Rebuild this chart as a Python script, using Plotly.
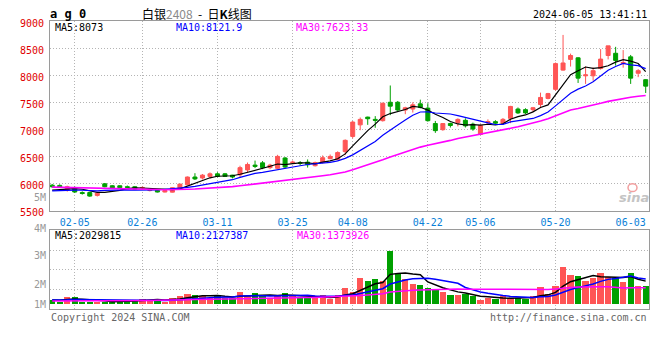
import plotly.graph_objects as go

# ---------------- data ----------------
dates = ["2024-01-31", "2024-02-01", "2024-02-02", "2024-02-05", "2024-02-06", "2024-02-07", "2024-02-08",
         "2024-02-19", "2024-02-20", "2024-02-21", "2024-02-22", "2024-02-23", "2024-02-26", "2024-02-27",
         "2024-02-28", "2024-02-29", "2024-03-01", "2024-03-04", "2024-03-05", "2024-03-06", "2024-03-07",
         "2024-03-08", "2024-03-11", "2024-03-12", "2024-03-13", "2024-03-14", "2024-03-15", "2024-03-18",
         "2024-03-19", "2024-03-20", "2024-03-21", "2024-03-22", "2024-03-25", "2024-03-26", "2024-03-27",
         "2024-03-28", "2024-03-29", "2024-04-01", "2024-04-02", "2024-04-03", "2024-04-08", "2024-04-09",
         "2024-04-10", "2024-04-11", "2024-04-12", "2024-04-15", "2024-04-16", "2024-04-17", "2024-04-18",
         "2024-04-19", "2024-04-22", "2024-04-23", "2024-04-24", "2024-04-25", "2024-04-26", "2024-04-29",
         "2024-04-30", "2024-05-06", "2024-05-07", "2024-05-08", "2024-05-09", "2024-05-10", "2024-05-13",
         "2024-05-14", "2024-05-15", "2024-05-16", "2024-05-17", "2024-05-20", "2024-05-21", "2024-05-22",
         "2024-05-23", "2024-05-24", "2024-05-27", "2024-05-28", "2024-05-29", "2024-05-30", "2024-05-31",
         "2024-06-03", "2024-06-04", "2024-06-05"]

opens = [5975, 5970, 5890, 5925, 5838, 5839, 5786, 6000, 5964, 5964,
         5946, 5946, 5925, 5875, 5880, 5848, 5846, 5910, 5982, 6125,
         6107, 6137, 6184, 6184, 6160, 6166, 6256, 6345, 6387, 6298,
         6286, 6477, 6390, 6390, 6400, 6334, 6393, 6465, 6452, 6595,
         6875, 7089, 7232, 7190, 7166, 7506, 7506, 7363, 7381, 7477,
         7398, 7113, 7000, 7113, 7130, 7173, 7102, 6911, 7125, 7148,
         7120, 7209, 7381, 7370, 7370, 7464, 7577, 7745, 8100, 8298,
         8327, 7995, 7995, 8130, 8370, 8411, 8220, 8345, 8042, 7923]
highs = [5995, 5990, 5965, 5950, 5860, 5845, 5840, 6015, 5975, 5972,
         5968, 5955, 5950, 5895, 5900, 5885, 5935, 6000, 6135, 6196,
         6180, 6210, 6214, 6200, 6165, 6334, 6393, 6429, 6420, 6370,
         6535, 6494, 6430, 6420, 6450, 6410, 6523, 6541, 6600, 6820,
         7160, 7225, 7240, 7250, 7500, 7816, 7530, 7423, 7506, 7554,
         7488, 7161, 7120, 7130, 7209, 7210, 7130, 7100, 7190, 7175,
         7215, 7440, 7410, 7395, 7420, 7684, 7680, 8240, 8750, 8405,
         8340, 8170, 8148, 8488, 8548, 8530, 8470, 8380, 8120, 7935]
lows = [5925, 5925, 5855, 5830, 5800, 5760, 5765, 5935, 5905, 5915,
        5910, 5890, 5905, 5860, 5840, 5840, 5840, 5900, 5975, 6070,
        6080, 6100, 6120, 6125, 6100, 6116, 6214, 6290, 6270, 6270,
        6270, 6286, 6370, 6340, 6300, 6320, 6375, 6452, 6430, 6530,
        6840, 6990, 7089, 7035, 7150, 7268, 7327, 7286, 7316, 7393,
        7148, 6941, 6980, 7040, 7060, 7040, 6980, 6900, 7090, 7090,
        7090, 7120, 7290, 7290, 7330, 7416, 7560, 7720, 8090, 8166,
        7863, 7845, 7905, 8110, 8298, 8184, 8145, 7845, 7970, 7678]
closes = [5945, 5935, 5946, 5848, 5822, 5773, 5827, 5946, 5916, 5928,
          5934, 5900, 5932, 5882, 5848, 5876, 5928, 5994, 6125, 6090,
          6160, 6184, 6137, 6137, 6125, 6298, 6357, 6321, 6298, 6345,
          6506, 6310, 6400, 6378, 6352, 6393, 6482, 6506, 6577, 6803,
          7140, 7190, 7202, 7173, 7488, 7434, 7363, 7405, 7459, 7411,
          7166, 6982, 7113, 7077, 7190, 7071, 7012, 7077, 7150, 7120,
          7190, 7429, 7310, 7310, 7405, 7595, 7666, 8220, 8232, 8370,
          7952, 8012, 8090, 8304, 8548, 8280, 8240, 7952, 8090, 7804]
volumes = [420000, 250000, 670000, 670000, 250000, 250000, 250000, 250000, 250000, 250000,
           420000, 420000, 500000, 420000, 420000, 250000, 580000, 750000, 920000, 830000,
           750000, 580000, 830000, 580000, 580000, 1080000, 750000, 1000000, 750000, 580000,
           830000, 1000000, 830000, 580000, 580000, 580000, 830000, 500000, 830000, 1440000,
           1080000, 2280000, 2000000, 2190000, 2000000, 4580000, 2670000, 2190000, 1780000, 1690000,
           1440000, 1360000, 1030000, 830000, 830000, 920000, 690000, 360000, 580000, 500000,
           750000, 580000, 560000, 500000, 690000, 1530000, 920000, 1610000, 3250000, 2580000,
           2420000, 2000000, 2310000, 2750000, 2400000, 2280000, 1940000, 2750000, 1580000, 1580000]

# estimated sessions before the window (only feed the moving averages)
prior_closes = [6040, 6025, 6010, 5998, 5985, 5990, 5975, 5968, 5980, 5972,
                5960, 5965, 5958, 5950, 5962, 5948, 5955, 5940, 5945, 5930,
                5880, 5862, 5850, 5858, 5846, 5870, 5868, 5845, 5884]
prior_volumes = [300000, 260000, 280000, 310000, 270000, 250000, 290000, 300000, 260000, 280000,
                 270000, 290000, 300000, 260000, 280000, 270000, 300000, 280000, 260000, 290000,
                 380000, 420000, 400000, 360000, 440000, 410000, 380000, 400000, 420000]

date_tick_labels = ["02-05", "02-26", "03-11", "03-25", "04-08", "04-22", "05-06", "05-20", "06-03"]
grid_dates = ["02-05", "02-26", "03-11", "03-25", "04-08", "04-22", "05-06", "05-20"]
price_ticks = [5500, 6000, 6500, 7000, 7500, 8000, 8500, 9000]
vol_tick_labels = ["1M", "2M", "3M", "4M", "5M"]
vol_tick_vals = [0, 1690000, 4250000, 6580000, 9250000]

price_ma_text = ["MA5:8073", "MA10:8121.9", "MA30:7623.33"]
vol_ma_text = ["MA5:2029815", "MA10:2127387", "MA30:1373926"]

# ---------------- helpers ----------------
W, H = 660, 360
def px(x):
    return x / W
def py(y):
    return 1 - y / H

def moving_avg(prior, vals, n):
    allv = prior + vals
    off = len(prior)
    out = []
    for i in range(len(vals)):
        seg = allv[off + i - n + 1: off + i + 1]
        out.append(sum(seg) / len(seg))
    return out

idx = list(range(len(dates)))
mmdd = [d[5:] for d in dates]
tick_idx = [mmdd.index(t) for t in date_tick_labels]
grid_idx = [mmdd.index(t) for t in grid_dates]

RED = "#ff5555"
GREEN = "#00a000"
MA_COLORS = ["#000000", "#0000ff", "#ff00ff"]
MONO = "DejaVu Sans Mono"

fig = go.Figure()

fig.add_trace(go.Candlestick(
    x=idx, open=opens, high=highs, low=lows, close=closes,
    increasing=dict(line=dict(color=RED, width=1), fillcolor=RED),
    decreasing=dict(line=dict(color=GREEN, width=1), fillcolor=GREEN),
    whiskerwidth=0, xaxis="x", yaxis="y", showlegend=False, hoverinfo="skip"))

for n, col, w in zip([5, 10, 30], MA_COLORS, [1.2, 1.2, 1.6]):
    fig.add_trace(go.Scatter(x=idx, y=moving_avg(prior_closes, closes, n), mode="lines",
                             line=dict(color=col, width=w), xaxis="x", yaxis="y",
                             showlegend=False, hoverinfo="skip"))

vol_colors = [RED if c >= o else GREEN for o, c in zip(opens, closes)]
fig.add_trace(go.Bar(x=idx, y=volumes, marker=dict(color=vol_colors, line=dict(width=0)),
                     width=0.84, xaxis="x2", yaxis="y2", showlegend=False, hoverinfo="skip"))

for n, col in zip([5, 10, 30], MA_COLORS):
    fig.add_trace(go.Scatter(x=idx, y=moving_avg(prior_volumes, volumes, n), mode="lines",
                             line=dict(color=col, width=1.5), xaxis="x2", yaxis="y2",
                             showlegend=False, hoverinfo="skip"))

# empty trace that carries the left-hand volume label axis
fig.add_trace(go.Scatter(x=[], y=[], xaxis="x3", yaxis="y3", showlegend=False, hoverinfo="skip"))

FRAME = "#9a9a9a"
GRID = "#b4b4b4"
xr = [-0.293, 79.44]
xdom = [px(50), px(649)]

fig.update_layout(
    width=W, height=H, autosize=False, margin=dict(l=0, r=0, t=0, b=0, pad=0),
    paper_bgcolor="white", plot_bgcolor="rgba(0,0,0,0)", boxgap=0.24, bargap=0,
    xaxis=dict(domain=xdom, range=xr, anchor="y", rangeslider=dict(visible=False),
               tickmode="array", tickvals=tick_idx, ticktext=date_tick_labels,
               tickfont=dict(family=MONO, size=10, color="#0a7fd8"), ticks="",
               showticklabels=True, ticklabelstandoff=2,
               showgrid=False, zeroline=False, showline=True, mirror=True,
               linecolor=FRAME, linewidth=1,
               minor=dict(tickmode="array", tickvals=grid_idx, showgrid=True,
                          gridcolor=GRID, griddash="1px,2px", gridwidth=1, ticks="")),
    yaxis=dict(domain=[py(214), py(18)], range=[5500, 9000], anchor="x",
               tickmode="array", tickvals=price_ticks, ticks="",
               tickfont=dict(family=MONO, size=10, color="#e00000"),
               ticklabelshift=2, ticklabelstandoff=3,
               showgrid=True, gridcolor=GRID, griddash="1px,2px", zeroline=False,
               showline=True, mirror=True, linecolor=FRAME, linewidth=1),
    xaxis2=dict(domain=xdom, range=xr, anchor="y2", matches="x", showticklabels=False,
                ticks="", showgrid=False, zeroline=False, showline=True, mirror=True,
                linecolor=FRAME, linewidth=1,
                minor=dict(tickmode="array", tickvals=grid_idx, showgrid=True,
                           gridcolor=GRID, griddash="1px,2px", gridwidth=1, ticks="")),
    yaxis2=dict(domain=[py(316), py(234)], range=[-420000, 6420000], anchor="x2",
                showticklabels=False, ticks="", showgrid=False, zeroline=False,
                showline=True, mirror=True, linecolor=FRAME, linewidth=1,
                minor=dict(tickmode="array", tickvals=[1330000, 3000000, 4670000],
                           showgrid=True, gridcolor=GRID, griddash="1px,2px", ticks="")),
    xaxis3=dict(domain=xdom, range=xr, anchor="y3", visible=False),
    yaxis3=dict(domain=[py(316), py(190)], range=[-420000, 10080000], anchor="x3",
                tickmode="array", tickvals=vol_tick_vals, ticktext=vol_tick_labels,
                tickfont=dict(family=MONO, size=10, color="#999999"), ticks="",
                ticklabelstandoff=3,
                showgrid=False, zeroline=False, showline=False),
)

ann = []
def text(x, y, s, color="#000000", size=10, family=MONO, anchor="left"):
    ann.append(dict(x=px(x), y=py(y), xref="paper", yref="paper", text=s, showarrow=False,
                    xanchor=anchor, yanchor="middle", font=dict(family=family, size=size, color=color)))

text(48, 10, "<b>a g 0</b>", size=12)
text(140, 10, "白银", size=12, family="Noto Sans CJK SC")
text(164, 10, "2408", size=12, color="#8a8a8a", family="Noto Sans CJK SC")
text(196, 10, "-  日<b>K</b>线图", size=12, family="Noto Sans CJK SC")
text(649, 11, "2024-06-05 13:41:11", anchor="right")
for xx, s, col in zip([53, 174, 294], price_ma_text, MA_COLORS):
    text(xx, 24, s, color=col)
for xx, s, col in zip([53, 174, 295], vol_ma_text, MA_COLORS):
    text(xx, 239, s, color=col)
text(49, 324, "Copyright 2024 SINA.COM", color="#666666")
text(649, 324, "http://finance.sina.com.cn", color="#666666", anchor="right")
text(651, 200, "<b><i>sina</i></b>", color="#c4c4c4", size=13, family="DejaVu Sans", anchor="right")
fig.update_layout(annotations=ann)
fig.add_shape(type="circle", xref="paper", yref="paper", x0=px(628), x1=px(637), y0=py(194), y1=py(186),
              line=dict(color="#f2a0a0", width=1.5))

fig.write_html("out.html", config={"displayModeBar": False, "responsive": False},
               post_script="document.body.style.margin='0';")
